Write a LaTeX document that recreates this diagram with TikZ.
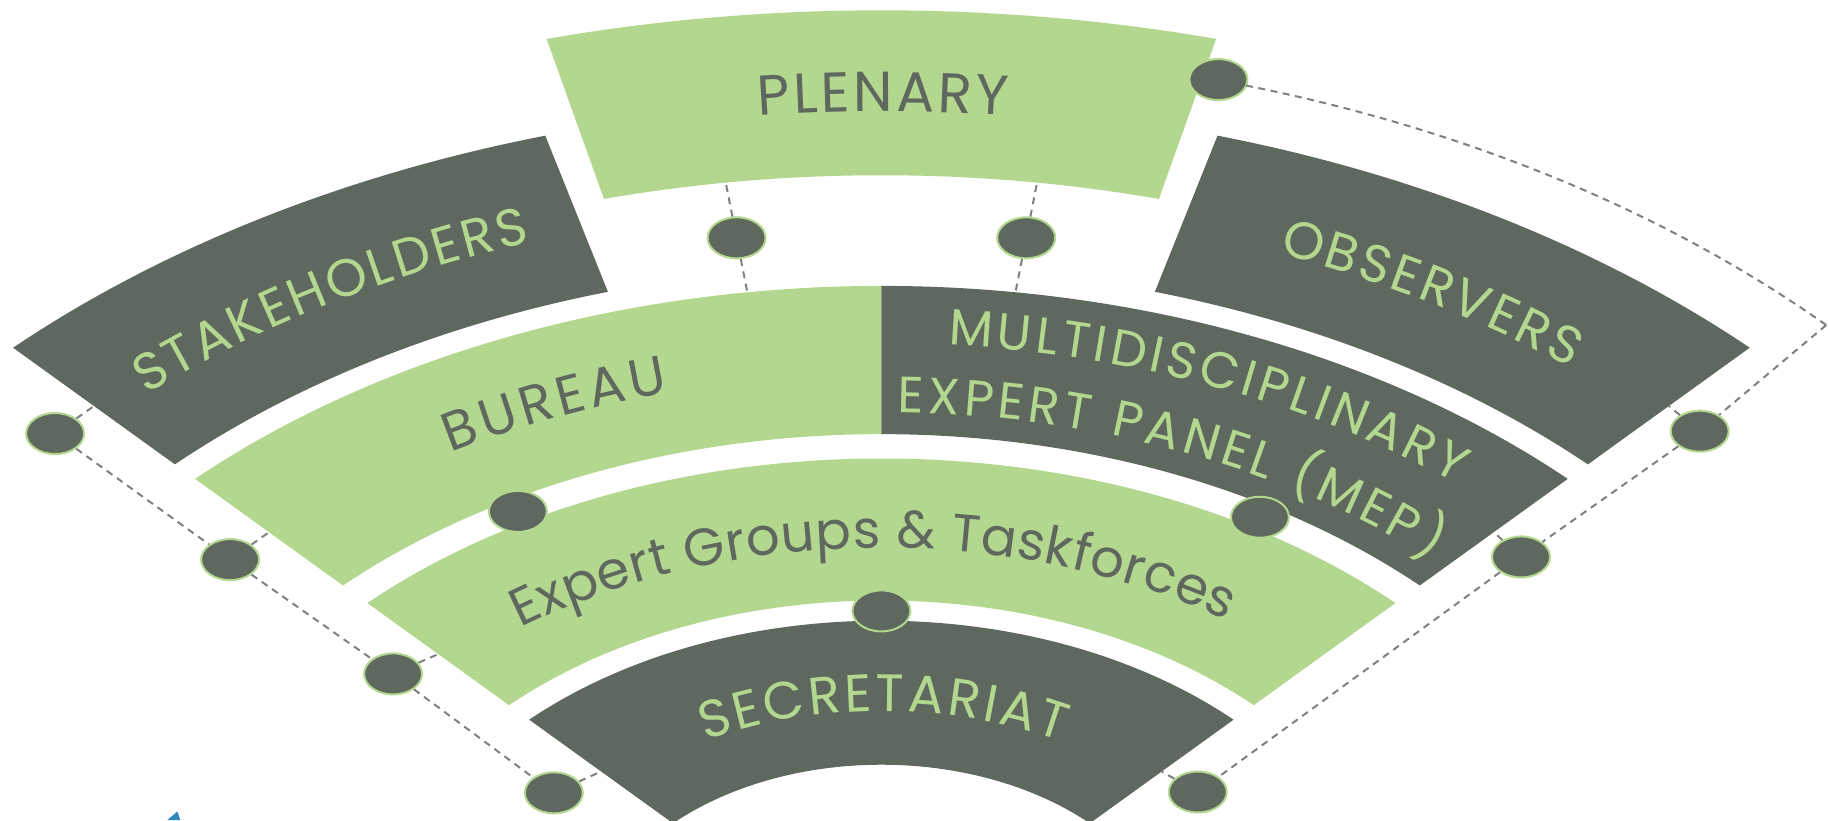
\documentclass[tikz,border=0pt]{standalone}
\usepackage{fontspec}
\setmainfont{Poppins}
\usetikzlibrary{shapes.geometric, decorations.text}

\definecolor{bandgrey}{HTML}{5E685E}
\definecolor{bandgreen}{HTML}{B3D78F}
\definecolor{dashgrey}{HTML}{808080}
\definecolor{logoblue}{HTML}{2E86C1}

\begin{document}
\begin{tikzpicture}[x=0.1mm, y=0.0696mm]
        \tikzstyle{dark}  = [fill=bandgrey]
        \tikzstyle{light} = [fill=bandgreen]
        \tikzstyle{dot}   = [ellipse, draw=bandgreen, line width=0.2mm, fill=bandgrey, inner sep=0pt, minimum width=5.8mm, minimum height=4.1mm]
        \tikzstyle{link}  = [draw=dashgrey, line width=0.2mm, dash pattern=on 0.7mm off 0.55mm]
        \tikzstyle{ontxt} = [decorate, decoration={text along path, text align=center, raise=-1.85mm}]

        \useasboundingbox (-88.14mm,15.35mm) rectangle (94.66mm,97.35mm);

        % Sectoarele evantaiului.
        \foreach \a/\b/\ri/\ro/\stil in {
                 46/ 134/ 300/ 507/dark,
                 46/ 134/ 536/ 740/light,
                 90/ 134/ 775/ 988/light,
                 46/  90/ 775/ 988/dark,
              105.6/ 134/1017/1250/dark,
                 46/74.4/1017/1250/dark,
                 76/ 104/1147/1384/light}
            \fill[\stil] (\a:\ri) arc[start angle=\a, end angle=\b, radius=\ri]
                -- (\b:\ro) arc[start angle=\b, end angle=\a, radius=\ro] -- cycle;

        % Textele sectoarelor.
        \path[ontxt, decoration={text color=bandgrey, text={|\fontsize{16pt}{18pt}\selectfont\kern1pt|PLENARY}}]
            (110:1265) arc[start angle=110, end angle=70, radius=1265];
        \path[ontxt, decoration={text color=bandgreen, text={|\fontsize{15pt}{18pt}\selectfont\kern1pt|STAKEHOLDERS}}]
            (140:1133.5) arc[start angle=140, end angle=100.6, radius=1133.5];
        \path[ontxt, decoration={text color=bandgreen, text={|\fontsize{15pt}{18pt}\selectfont\kern1pt|OBSERVERS}}]
            (80:1133.5) arc[start angle=80, end angle=40, radius=1133.5];
        \path[ontxt, decoration={text color=bandgrey, text={|\fontsize{15.5pt}{18pt}\selectfont\kern1.4pt|BUREAU}}]
            (135:888) arc[start angle=135, end angle=90.4, radius=888];
        \path[ontxt, decoration={text color=bandgreen, text={|\fontsize{14.5pt}{18pt}\selectfont\kern1.3pt|MULTIDISCIPLINARY}}]
            (98:932) arc[start angle=98, end angle=37.4, radius=932];
        \path[ontxt, decoration={text color=bandgreen, text={|\fontsize{14.5pt}{18pt}\selectfont\kern1.3pt|EXPERT PANEL (MEP)}}]
            (98:833) arc[start angle=98, end angle=37.4, radius=833];
        \path[ontxt, decoration={text color=bandgrey, text={|\fontsize{15pt}{18pt}\selectfont\kern0.35pt|Expert Groups {\&} Taskforces}}]
            (141:638) arc[start angle=141, end angle=41, radius=638];
        \path[ontxt, decoration={text color=bandgreen, text={|\fontsize{15pt}{18pt}\selectfont\kern1.25pt|SECRETARIAT}}]
            (150:403.5) arc[start angle=150, end angle=30, radius=403.5];

        % Punctele de pe margini.
        \foreach \nume/\ang/\rad in {e4/134/1133.5, e5/134/881.5, e6/134/638, e7/134/403.5,
                                     e8/46/1133.5, e9/46/881.5, e10/46/403.5,
                                     p2/97.8/1147, b2/97.8/988, p3/82.2/1147, b3/82.2/988,
                                     arcstart/74.05/1327, cr/44.6/1327}
            \coordinate (\nume) at (\ang:\rad);

        % Bulinele.
        \foreach \nume/\ang/\rad in {d1/75.3/1328, d2/97.8/1067, d3/82.2/1067,
                                     d4/136.8/1133.5, d5/137.6/882, d6/138.6/651, d7/141.6/418,
                                     d8/43.6/1130, d9/43.1/876, d10/39.5/410,
                                     d11/118.7/757, d12/60/757, d13/90/521}
            \node[dot] (\nume) at (\ang:\rad) {};

        % Liniile punctate.
        \draw[link] (d4) -- (d5) -- (d6) -- (d7);
        \foreach \d/\e in {d4/e4, d5/e5, d6/e6, d7/e7, d8/e8, d9/e9, d10/e10,
                           d2/p2, d2/b2, d3/p3, d3/b3}
            \draw[link] (\d) -- (\e);
        \draw[link] (arcstart) arc[start angle=74.05, end angle=44.6, radius=1327];
        \draw[link] (cr) -- (d8) -- (d9) -- (d10);

        % Coltul siglei.
        \fill[logoblue] (-71.4mm,15.35mm) -- (-70.4mm,16.2mm) -- (-70.1mm,15.35mm) -- cycle;
\end{tikzpicture}
\end{document}
